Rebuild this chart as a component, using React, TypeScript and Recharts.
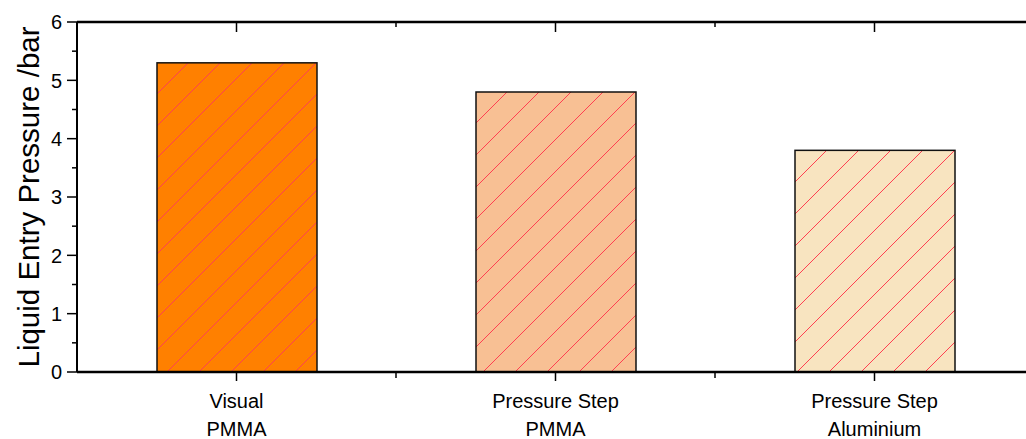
import React from 'react';
import { BarChart, Bar, XAxis, YAxis } from 'recharts';

const categoryLine1 = ['Visual', 'Pressure Step', 'Pressure Step'];
const categoryLine2 = ['PMMA', 'PMMA', 'Aluminium'];
const pressureValues = [5.3, 4.8, 3.8];
const barColors = ['#FF8000', '#F8C094', '#F8E4C0'];
const yTicks = [0, 0.5, 1, 1.5, 2, 2.5, 3, 3.5, 4, 4.5, 5, 5.5, 6];
const xTicks = [0.5, 1, 1.5, 2, 2.5];
const yLabel = 'Liquid Entry Pressure /bar';

const FONT = '"Liberation Sans", Arial, sans-serif';
const HATCH = '#FF4050';
const HATCH_STEP = 32;

const data = categoryLine1.map((l1, i) => ({
  name: `${l1} ${categoryLine2[i]}`,
  pos: i + 0.5,
  value: pressureValues[i],
  color: barColors[i],
}));

const isMajorX = (v: number) => Math.abs(v - Math.floor(v) - 0.5) < 1e-6;

const LeftTick = (props: any) => {
  const { x, y, payload } = props;
  const v = payload.value;
  const major = Number.isInteger(v);
  return (
    <g>
      <line x1={x} x2={x - (major ? 10 : 5)} y1={y} y2={y} stroke="#000" strokeWidth={1.5} />
      {major && (
        <text x={x - 15} y={y} dy="0.36em" textAnchor="end" fontSize={20} fontFamily={FONT} fill="#000">
          {v}
        </text>
      )}
    </g>
  );
};

const RightTick = (props: any) => {
  const { x, y, payload } = props;
  const major = Number.isInteger(payload.value);
  return <line x1={x} x2={x - (major ? 10 : 5)} y1={y} y2={y} stroke="#000" strokeWidth={1.5} />;
};

const BottomTick = (props: any) => {
  const { x, y, payload } = props;
  const v = payload.value;
  const major = isMajorX(v);
  const idx = Math.floor(v);
  return (
    <g>
      <line x1={x} x2={x} y1={y} y2={y + (major ? 9 : 6)} stroke="#000" strokeWidth={1.5} />
      {major && (
        <text textAnchor="middle" fontSize={20} fontFamily={FONT} fill="#000">
          <tspan x={x} y={y + 36}>{categoryLine1[idx]}</tspan>
          <tspan x={x} y={y + 64}>{categoryLine2[idx]}</tspan>
        </text>
      )}
    </g>
  );
};

const TopTick = (props: any) => {
  const { x, y, payload } = props;
  const major = isMajorX(payload.value);
  return <line x1={x} x2={x} y1={y} y2={y + (major ? 10 : 5)} stroke="#000" strokeWidth={1.5} />;
};

const HatchBar = (props: any) => {
  const { x, y, width, height, payload, index } = props;
  if (width == null || height == null || height <= 0) return null;
  const clipId = `barclip-${index}-${Math.round(x)}`;
  const lines = [];
  let start = Math.round(x + y + 31);
  if (start % 2 === 0) start += 1;
  const end = x + width + y + height;
  for (let c = start; c < end; c += HATCH_STEP) {
    lines.push(
      <line key={c} x1={c - (y + height)} y1={y + height} x2={c - y} y2={y} stroke={HATCH} strokeWidth={1} />
    );
  }
  return (
    <g>
      <defs>
        <clipPath id={clipId}>
          <rect x={x} y={y} width={width} height={height} />
        </clipPath>
      </defs>
      <rect x={x} y={y} width={width} height={height} fill={payload.color} />
      <g clipPath={`url(#${clipId})`}>{lines}</g>
      <rect x={x} y={y} width={width} height={height} fill="none" stroke="#111" strokeWidth={1.5} />
    </g>
  );
};

export default function App() {
  return (
    <div style={{ position: 'absolute', left: 0, top: 0, width: 1026, height: 439, overflow: 'hidden', background: '#fff' }}>
      <BarChart
        width={1044}
        height={439}
        data={data}
        margin={{ top: 21, right: 10, bottom: 0, left: 0 }}
      >
        <XAxis xAxisId="cat" dataKey="name" hide />
        <XAxis
          xAxisId="bottom"
          dataKey="pos"
          type="number"
          domain={[0, 3]}
          allowDataOverflow
          ticks={xTicks}
          interval={0}
          height={67}
          tickSize={0}
          tickMargin={0}
          tickLine={false}
          tick={<BottomTick />}
          axisLine={{ stroke: '#000', strokeWidth: 2.5 }}
        />
        <XAxis
          xAxisId="top"
          dataKey="pos"
          orientation="top"
          type="number"
          domain={[0, 3]}
          allowDataOverflow
          ticks={xTicks}
          interval={0}
          height={1}
          tickSize={0}
          tickMargin={0}
          tickLine={false}
          tick={<TopTick />}
          axisLine={{ stroke: '#000', strokeWidth: 2.5 }}
        />
        <YAxis
          yAxisId="left"
          domain={[0, 6]}
          allowDataOverflow
          ticks={yTicks}
          interval={0}
          width={77}
          tickSize={0}
          tickMargin={0}
          tickLine={false}
          tick={<LeftTick />}
          axisLine={{ stroke: '#000', strokeWidth: 2 }}
          label={{
            value: yLabel,
            angle: -90,
            position: 'center',
            dx: -10,
            style: { fontSize: 29.5, fontFamily: FONT, fill: '#000' },
          }}
        />
        <YAxis
          yAxisId="right"
          orientation="right"
          domain={[0, 6]}
          allowDataOverflow
          ticks={yTicks}
          interval={0}
          width={0}
          tickSize={0}
          tickMargin={0}
          tickLine={false}
          tick={<RightTick />}
          axisLine={{ stroke: '#000', strokeWidth: 2 }}
        />
        <Bar
          xAxisId="cat"
          yAxisId="left"
          dataKey="value"
          barSize={160}
          shape={<HatchBar />}
          isAnimationActive={false}
        />
      </BarChart>
    </div>
  );
}
